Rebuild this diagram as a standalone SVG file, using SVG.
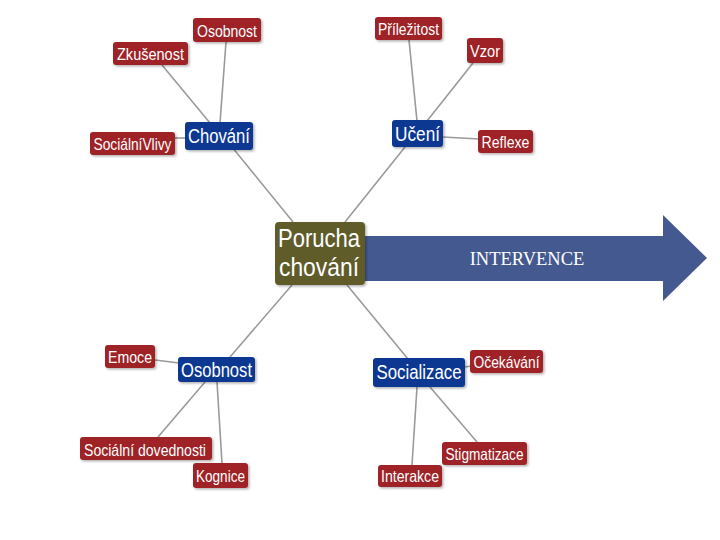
<svg xmlns="http://www.w3.org/2000/svg" width="720" height="540" viewBox="0 0 720 540">
<defs>
<filter id="sh" x="-10%" y="-10%" width="130%" height="140%"><feDropShadow dx="1.5" dy="1.5" stdDeviation="1" flood-color="#000" flood-opacity="0.3"/></filter>
<style>
.c{stroke:#9a9a9a;stroke-width:1.6;fill:none}
.r{fill:#9e2428;filter:url(#sh)}
.b{fill:#0b3992;filter:url(#sh)}
.o{fill:#5f5b2b;filter:url(#sh)}
.t{font-family:"Liberation Sans",Arial,sans-serif;fill:#fff;text-anchor:middle}
.s{font-size:16.5px}
.m{font-size:19.5px}
</style>
</defs>
<rect width="720" height="540" fill="#fff"/>
<g id="connectors">
<line class="c" x1="226" y1="42" x2="220" y2="123"/>
<line class="c" x1="162" y1="65" x2="210" y2="123"/>
<line class="c" x1="175" y1="138" x2="186" y2="138"/>
<line class="c" x1="232" y1="147" x2="293" y2="222"/>
<line class="c" x1="409" y1="40" x2="417" y2="121"/>
<line class="c" x1="473" y1="63" x2="427" y2="121"/>
<line class="c" x1="443" y1="137" x2="479" y2="139"/>
<line class="c" x1="405" y1="147" x2="345" y2="222"/>
<line class="c" x1="155" y1="360" x2="179" y2="363"/>
<line class="c" x1="292" y1="285" x2="230" y2="357"/>
<line class="c" x1="205" y1="382" x2="158" y2="437"/>
<line class="c" x1="217" y1="382" x2="222" y2="463"/>
<line class="c" x1="347" y1="285" x2="408" y2="359"/>
<line class="c" x1="465" y1="367" x2="471" y2="366"/>
<line class="c" x1="430" y1="387" x2="477" y2="442"/>
<line class="c" x1="417" y1="387" x2="412" y2="465"/>
</g>
<g id="arrow">
<path d="M365 236 H663 V215 L707 258 L663 301 V281 H365 Z" fill="#44598f"/>
<text x="527" y="265" font-family="'Liberation Serif','Times New Roman',serif" font-size="18.5" fill="#fff" text-anchor="middle">INTERVENCE</text>
</g>
<g id="porucha">
<rect class="o" x="275" y="222" width="90" height="63" rx="4"/>
<text class="t" x="319" y="247" font-size="25" textLength="82" lengthAdjust="spacingAndGlyphs">Porucha</text>
<text class="t" x="319" y="276" font-size="25" textLength="80" lengthAdjust="spacingAndGlyphs">chování</text>
</g>
<g id="chovani"><rect class="b" x="185" y="122" width="68" height="28" rx="3"/><text class="t m" x="219" y="143" textLength="62" lengthAdjust="spacingAndGlyphs">Chování</text></g>
<g id="osobnost1"><rect class="r" x="193" y="18" width="68" height="24" rx="3"/><text class="t s" x="227" y="37" textLength="60" lengthAdjust="spacingAndGlyphs">Osobnost</text></g>
<g id="zkusenost"><rect class="r" x="113" y="42" width="75" height="23" rx="3"/><text class="t s" x="150.5" y="60" textLength="67" lengthAdjust="spacingAndGlyphs">Zkušenost</text></g>
<g id="socialnivlivy"><rect class="r" x="90" y="132" width="85" height="23" rx="3"/><text class="t s" x="132.5" y="150" textLength="78" lengthAdjust="spacingAndGlyphs">SociálníVlivy</text></g>
<g id="uceni"><rect class="b" x="392" y="120" width="51" height="27" rx="3"/><text class="t m" x="417.5" y="141" textLength="45" lengthAdjust="spacingAndGlyphs">Učení</text></g>
<g id="prilezitost"><rect class="r" x="375" y="17" width="67" height="23" rx="3"/><text class="t s" x="408.5" y="35" textLength="61" lengthAdjust="spacingAndGlyphs">Příležitost</text></g>
<g id="vzor"><rect class="r" x="467" y="38" width="36" height="25" rx="3"/><text class="t s" x="485" y="57" textLength="30" lengthAdjust="spacingAndGlyphs">Vzor</text></g>
<g id="reflexe"><rect class="r" x="478" y="130" width="55" height="23" rx="3"/><text class="t s" x="505.5" y="148" textLength="48" lengthAdjust="spacingAndGlyphs">Reflexe</text></g>
<g id="osobnost2"><rect class="b" x="178" y="357" width="77" height="25" rx="3"/><text class="t m" x="216.5" y="377" textLength="71" lengthAdjust="spacingAndGlyphs">Osobnost</text></g>
<g id="emoce"><rect class="r" x="105" y="345" width="50" height="23" rx="3"/><text class="t s" x="130" y="363" textLength="44" lengthAdjust="spacingAndGlyphs">Emoce</text></g>
<g id="socialnidovednosti"><rect class="r" x="80" y="437" width="132" height="23" rx="3"/><text class="t s" x="145" y="456" textLength="122" lengthAdjust="spacingAndGlyphs">Sociální dovednosti</text></g>
<g id="kognice"><rect class="r" x="193" y="463" width="55" height="25" rx="3"/><text class="t s" x="220.5" y="482" textLength="49" lengthAdjust="spacingAndGlyphs">Kognice</text></g>
<g id="socializace"><rect class="b" x="373" y="358" width="92" height="29" rx="3"/><text class="t m" x="419" y="379" textLength="85" lengthAdjust="spacingAndGlyphs">Socializace</text></g>
<g id="ocekavani"><rect class="r" x="470" y="350" width="73" height="23" rx="3"/><text class="t s" x="506.5" y="368" textLength="66" lengthAdjust="spacingAndGlyphs">Očekávání</text></g>
<g id="stigmatizace"><rect class="r" x="442" y="442" width="85" height="23" rx="3"/><text class="t s" x="484.5" y="460" textLength="78" lengthAdjust="spacingAndGlyphs">Stigmatizace</text></g>
<g id="interakce"><rect class="r" x="378" y="465" width="64" height="22" rx="3"/><text class="t s" x="410" y="482" textLength="58" lengthAdjust="spacingAndGlyphs">Interakce</text></g>
</svg>
